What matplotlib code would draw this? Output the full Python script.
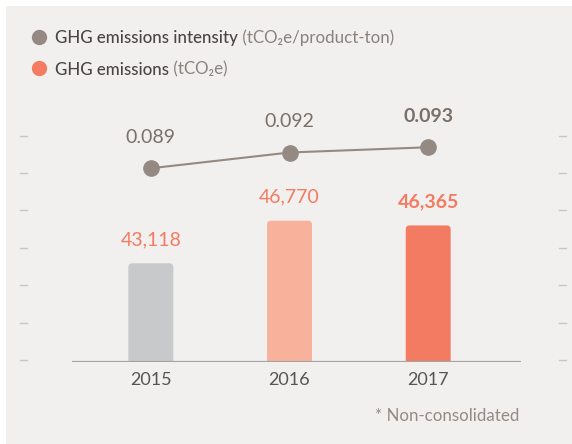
import matplotlib
matplotlib.use("Agg")
import matplotlib.pyplot as plt
from matplotlib.lines import Line2D
from matplotlib.patches import Rectangle, FancyBboxPatch

years = ["2015", "2016", "2017"]
emissions = [43118, 46770, 46365]          # tCO2e
intensity = [0.089, 0.092, 0.093]          # tCO2e/product-ton
bar_colors = ["#c8c9cb", "#f8b29c", "#f37b62"]

BG = "#f1f0ee"
LINE_C = "#958a83"
LBL_GRAY = "#7a706a"
LBL_RED = "#f47a62"
FONT = ["Lato", "DejaVu Sans"]

W, H = 572, 444
fig = plt.figure(figsize=(W / 100, H / 100), dpi=100)
fig.patch.set_facecolor("white")

def fx(px):
    return px / W

def fy(py):
    return 1 - py / H

# light panel behind everything
fig.add_artist(Rectangle((fx(6), 0), 1 - fx(6), fy(6), transform=fig.transFigure,
                         facecolor=BG, edgecolor="none", zorder=0))

# little dashes down both sides
for py in [136, 173.3, 210.5, 248, 285.3, 322.5, 360]:
    for x0, x1 in [(20, 27), (559, 566)]:
        fig.add_artist(Line2D([fx(x0), fx(x1)], [fy(py), fy(py)], transform=fig.transFigure,
                              color="#cbc6c3", lw=1.0, zorder=1))

ax = fig.add_axes([fx(71.5), fy(362), fx(520.7) - fx(71.5), fy(100) - fy(362)])
ax.set_facecolor("none")
ax.set_zorder(2)
ax.set_xlim(-0.572, 2.667)
ax.set_ylim(34657, 57117)
for s in ax.spines.values():
    s.set_visible(False)
ax.set_yticks([])
ax.set_xticks(range(len(years)))
ax.set_xticklabels(years, fontsize=13, color="#555555", family=FONT)
ax.tick_params(axis="x", length=0, pad=7)
ax.axhline(34657, color="#a3a3a3", lw=1.6, zorder=3)

# bars with softly rounded tops (bottom corners hidden under the axis clip)
bw = 0.324
ux = (2.667 + 0.572) / (520.7 - 71.5)          # data units per pixel, x
uy = (57117 - 34657) / (362 - 100)              # data units per pixel, y
bars = ax.bar(range(len(years)), emissions, width=bw, color=bar_colors)
for b, c in zip(bars, bar_colors):
    b.set_visible(False)
    p = FancyBboxPatch((b.get_x(), 0), b.get_width(), b.get_height(),
                       boxstyle=f"round,pad=0,rounding_size={4 * ux}",
                       mutation_aspect=uy / ux, facecolor=c, edgecolor="none", zorder=2)
    ax.add_patch(p)

last = len(years) - 1
for i, v in enumerate(emissions):
    ax.annotate(f"{v:,}", (i, v), xytext=(0, 17), textcoords="offset points",
                ha="center", va="center", fontsize=14, color=LBL_RED, family=FONT,
                fontweight="bold" if i == last else "normal")

# intensity line on its own scale
ax2 = ax.twinx()
ax2.set_ylim(0.05210, 0.10200)
ax2.axis("off")
ax2.plot(range(len(years)), intensity, color=LINE_C, lw=1.5, marker="o",
         markersize=11, markerfacecolor=LINE_C, markeredgecolor=LINE_C, zorder=4)
for i, v in enumerate(intensity):
    ax2.annotate(f"{v:.3f}", (i, v), xytext=(0, 22.5), textcoords="offset points",
                 ha="center", va="center", fontsize=14, color=LBL_GRAY, family=FONT,
                 fontweight="bold" if i == last else "normal")

# legend
legend_rows = [("GHG emissions intensity", " (tCO₂e/product-ton)", LINE_C, 36.7),
               ("GHG emissions", " (tCO₂e)", "#f47a62", 68.3)]
fig.canvas.draw()
renderer = fig.canvas.get_renderer()
for name, unit, col, py in legend_rows:
    fig.add_artist(Line2D([fx(39)], [fy(py)], transform=fig.transFigure, marker="o",
                          markersize=10, color=col, lw=0))
    t = fig.text(fx(55), fy(py), name, fontsize=12.2, color="#4a4644", family=FONT,
                 fontweight="medium", va="center_baseline")
    bb = t.get_window_extent(renderer)
    fig.text(bb.x1 / W, fy(py), unit, fontsize=12.2, color="#8a817b", family=FONT,
             va="center_baseline")

fig.text(fx(519), fy(416), "* Non-consolidated", ha="right", va="center",
         fontsize=12.2, color="#958a85", family=FONT)

fig.savefig("out.png", dpi=100, facecolor=fig.get_facecolor())
